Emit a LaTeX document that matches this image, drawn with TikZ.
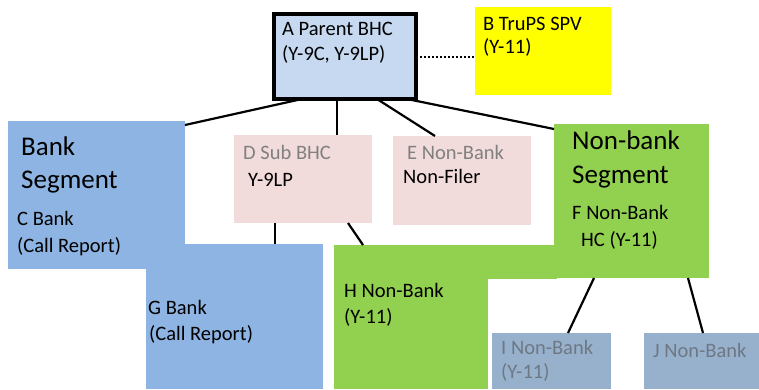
\documentclass[tikz,border=0pt]{standalone}
\usepackage{fontspec}
\setmainfont{Carlito}
\definecolor{parentblue}{HTML}{C6D9F1}
\definecolor{spvyellow}{HTML}{FFFF00}
\definecolor{bankblue}{HTML}{8DB4E2}
\definecolor{subpink}{HTML}{F2DCDB}
\definecolor{nbgreen}{HTML}{92D050}
\definecolor{nbgrey}{HTML}{97B1CC}
\definecolor{dimtext}{HTML}{808080}
\definecolor{dimtext2}{HTML}{6E7884}

\begin{document}
\begin{tikzpicture}[x=1pt,y=-1pt,
  box/.style={draw=none,inner sep=0pt,outer sep=0pt,anchor=north west},
  lbl/.style={inner sep=0pt,anchor=base west,font=\fontsize{20.5}{24}\selectfont},
  seg/.style={lbl,font=\fontsize{27}{32}\selectfont},
  link/.style={black,line width=2.2pt}]
  \useasboundingbox (0,0) rectangle (759,389);

  \node[box,fill=bankblue,minimum width=177pt,minimum height=148pt] (C) at (8,121) {};
  \node[box,fill=bankblue,minimum width=177pt,minimum height=145pt] (G) at (146,244) {};
  \node[box,fill=subpink,minimum width=138pt,minimum height=88pt] (D) at (234,135) {};
  \node[box,fill=subpink,minimum width=138pt,minimum height=89pt] (E) at (393,136) {};
  \node[box,fill=nbgreen,minimum width=154pt,minimum height=144pt] (H) at (334,245) {};
  \fill[nbgreen] (H.north east) rectangle (557,279);
  \node[box,fill=nbgreen,minimum width=155pt,minimum height=154pt] (F) at (554,124) {};
  \node[box,fill=nbgrey,minimum width=119pt,minimum height=56pt] (I) at (492,333) {};
  \node[box,fill=nbgrey,minimum width=115pt,minimum height=56pt] (J) at (644,333) {};
  \node[box,fill=parentblue,draw=black,line width=4pt,minimum width=142pt,minimum height=85pt] (A) at (274,14) {};
  \node[box,fill=spvyellow,minimum width=136pt,minimum height=88pt] (B) at (475,7) {};

  \draw[link] ([xshift=28pt]A.south west) -- ([yshift=-4pt]C.north east);
  \draw[link] ([xshift=63pt]A.south west) -- ([xshift=103pt]D.north west);
  \draw[link] ([xshift=103pt]A.south west) -- ([xshift=42pt]E.north west);
  \draw[link] ([xshift=133pt]A.south west) -- ([yshift=-5pt]F.north west);
  \draw[link] ([xshift=41pt]D.south west) -- ([xshift=129pt]G.north west);
  \draw[link] ([xshift=114pt]D.south west) -- ([xshift=29pt]H.north west);
  \draw[link] ([xshift=40pt]F.south west) -- ([xshift=76pt]I.north west);
  \draw[link] ([xshift=134pt]F.south west) -- ([xshift=59pt]J.north west);
  \draw[black,line width=2pt,dotted] (A.east) -- (B.west |- A.east);

  \node[lbl] (a1) at (282,35) {A Parent BHC};
  \node[lbl] (a2) at (282,60) {(Y-9C, Y-9LP)};
  \node[lbl] (b1) at (483,30) {B TruPS SPV};
  \node[lbl] (b2) at (483,53) {(Y-11)};
  \node[seg] (c1) at (21,155) {Bank};
  \node[seg] (c2) at (21,188) {Segment};
  \node[lbl] (c3) at (17,225) {C Bank};
  \node[lbl] (c4) at (17,252) {(Call Report)};
  \node[lbl,text=dimtext] (d1) at (243,159) {D Sub BHC};
  \node[lbl] (d2) at (248,186) {Y-9LP};
  \node[lbl,text=dimtext] (e1) at (407,159) {E Non-Bank};
  \node[lbl] (e2) at (403,183) {Non-Filer};
  \node[seg] (f1) at (572,149) {Non-bank};
  \node[seg] (f2) at (572,183) {Segment};
  \node[lbl] (f3) at (572,219) {F Non-Bank};
  \node[lbl] (f4) at (581,246) {HC (Y-11)};
  \node[lbl] (g1) at (148,314) {G Bank};
  \node[lbl] (g2) at (149,340) {(Call Report)};
  \node[lbl] (h1) at (344,297) {H Non-Bank};
  \node[lbl] (h2) at (344,323) {(Y-11)};
  \node[lbl,text=dimtext2] (i1) at (501,354) {I Non-Bank};
  \node[lbl,text=dimtext2] (i2) at (501,378) {(Y-11)};
  \node[lbl,text=dimtext2] (j1) at (653,357) {J Non-Bank};
\end{tikzpicture}
\end{document}
